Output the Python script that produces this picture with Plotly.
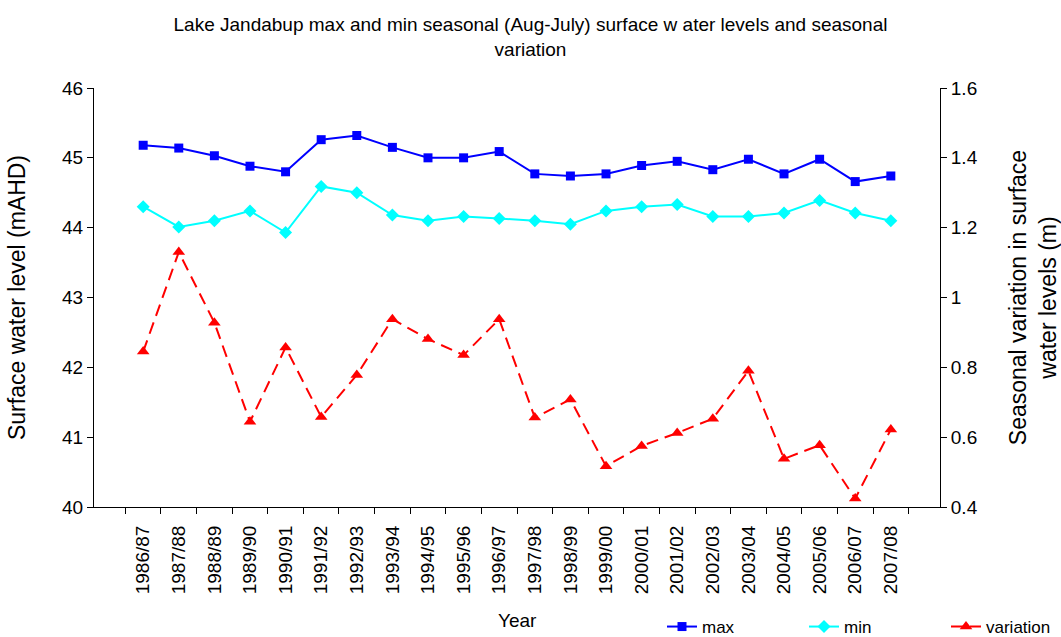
import plotly.graph_objects as go
from plotly.subplots import make_subplots

### Data ###
years = ['1986/87', '1987/88', '1988/89', '1989/90', '1990/91', '1991/92', '1992/93',
         '1993/94', '1994/95', '1995/96', '1996/97', '1997/98', '1998/99', '1999/00',
         '2000/01', '2001/02', '2002/03', '2003/04', '2004/05', '2005/06', '2006/07', '2007/08']

level_max = [45.18, 45.14, 45.03, 44.88, 44.80, 45.26, 45.32, 45.15, 45.00, 45.00, 45.09,
             44.77, 44.74, 44.77, 44.89, 44.95, 44.83, 44.98, 44.77, 44.98, 44.66, 44.74]

level_min = [44.30, 44.01, 44.10, 44.24, 43.93, 44.59, 44.50, 44.18, 44.10, 44.16, 44.13,
             44.10, 44.05, 44.24, 44.30, 44.33, 44.16, 44.16, 44.21, 44.39, 44.21, 44.10]

variation = [0.845, 1.13, 0.928, 0.644, 0.857, 0.658, 0.778, 0.938, 0.881, 0.835, 0.938,
             0.656, 0.708, 0.517, 0.575, 0.612, 0.653, 0.79, 0.538, 0.577, 0.424, 0.622]

left_ticks = [40, 41, 42, 43, 44, 45, 46]
right_ticks = [0.4, 0.6, 0.8, 1.0, 1.2, 1.4, 1.6]
right_labels = ['0.4', '0.6', '0.8', '1', '1.2', '1.4', '1.6']

font = 'Liberation Sans, Arial, sans-serif'

### Plot ###
fig = make_subplots(specs=[[{"secondary_y": True}]])
fig.add_trace(go.Scatter(x=years, y=level_max, mode='lines+markers', name='max',
                         line=dict(color='#0000FF', width=2),
                         marker=dict(symbol='square', size=9, color='#0000FF')),
              secondary_y=False)
fig.add_trace(go.Scatter(x=years, y=level_min, mode='lines+markers', name='min',
                         line=dict(color='#00FFFF', width=2),
                         marker=dict(symbol='diamond', size=10, color='#00FFFF')),
              secondary_y=False)
fig.add_trace(go.Scatter(x=years, y=variation, mode='lines+markers', name='variation',
                         line=dict(color='#FF0000', width=2, dash='12px,7px'),
                         marker=dict(symbol='triangle-up', size=11, color='#FF0000')),
              secondary_y=True)

fig.update_layout(
    width=1061, height=637,
    margin=dict(l=94, r=121, t=88, b=130),
    paper_bgcolor='white', plot_bgcolor='white',
    font=dict(family=font, size=19, color='black'),
    title=dict(text='Lake Jandabup max and min seasonal (Aug-July) surface w ater levels and seasonal<br>variation',
               x=0.5, xanchor='center', xref='container', y=1 - 31 / 637, yanchor='top',
               font=dict(size=19)),
    legend=dict(orientation='h', xref='container', yref='container',
                x=662 / 1061, xanchor='left', y=1 - 627 / 637, yanchor='middle',
                font=dict(size=17), entrywidth=97, bgcolor='rgba(0,0,0,0)'),
    showlegend=True,
)
# x-axis title as an annotation, the axis title standoff is ignored without automargin
# plot area is 419px tall, title sits ~113px under its bottom edge
fig.add_annotation(text='Year', x=0.5, xref='paper', xanchor='center',
                   y=-113 / 419, yref='paper', yanchor='middle',
                   showarrow=False, font=dict(size=19))
fig.update_xaxes(domain=[0, 1], automargin=False,
                 tickangle=-90, tickson='boundaries', ticks='outside', ticklen=6,
                 ticklabelstandoff=10,
                 showline=True, linecolor='black', linewidth=1, tickcolor='black',
                 showgrid=False, tickfont=dict(size=19))
fig.update_yaxes(title_text='Surface water level (mAHD)', title_standoff=30, automargin=False,
                 range=[40, 46], tickvals=left_ticks,
                 ticks='outside', ticklen=6, showline=True, linecolor='black', linewidth=1,
                 tickcolor='black', showgrid=False, zeroline=False, secondary_y=False)
fig.update_yaxes(title_text='Seasonal variation in surface<br>water levels (m)', title_standoff=33,
                 automargin=False, range=[0.4, 1.6],
                 tickvals=right_ticks, ticktext=right_labels,
                 ticks='outside', ticklen=6, showline=True, linecolor='black', linewidth=1,
                 tickcolor='black', showgrid=False, zeroline=False, secondary_y=True)

# page body has an 8px default margin; drop it so the figure sits at the window's corner
fig.write_html("out.html", config={'displayModeBar': False},
               post_script="document.body.style.margin = '0';")
